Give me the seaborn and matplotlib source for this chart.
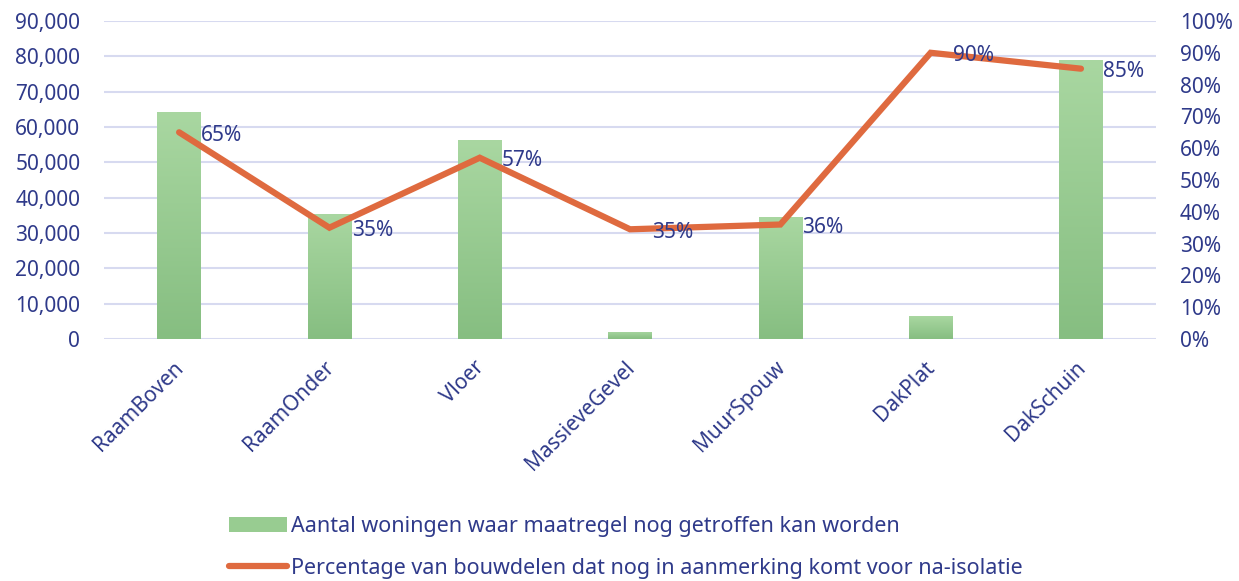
import numpy as np
import pandas as pd
import matplotlib
matplotlib.use("Agg")
import matplotlib.pyplot as plt
import matplotlib.transforms as mtransforms
import seaborn as sns
from matplotlib.ticker import FuncFormatter, PercentFormatter, MultipleLocator
from matplotlib.patches import Patch
from matplotlib.lines import Line2D
from matplotlib.colors import LinearSegmentedColormap

# data
categories = ["RaamBoven", "RaamOnder", "Vloer", "MassieveGevel", "MuurSpouw", "DakPlat", "DakSchuin"]
woningen = [64200, 35400, 56300, 2000, 34500, 6500, 79000]
percentage = [0.65, 0.35, 0.57, 0.345, 0.36, 0.90, 0.85]
pct_labels = ["65%", "35%", "57%", "35%", "36%", "90%", "85%"]
bar_label = "Aantal woningen waar maatregel nog getroffen kan worden"
line_label = "Percentage van bouwdelen dat nog in aanmerking komt voor na-isolatie"

TEXT = "#2F3A8A"
GRID = "#D7DAF0"
ORANGE = "#DF6A3F"
GREEN_TOP = "#A9D7A1"
GREEN_BOT = "#86BE81"

df = pd.DataFrame({"cat": categories, "n": woningen, "pct": percentage})

sns.set_style("white")
plt.rcParams["font.family"] = ["Noto Sans", "DejaVu Sans"]

fig = plt.figure(figsize=(12.39, 5.81), dpi=100)
ax = fig.add_axes([0.0839, 0.4165, 0.8492, 0.5474])

sns.barplot(data=df, x="cat", y="n", ax=ax, width=0.29, color=GREEN_TOP, saturation=1)

# vertical gradient on each bar
cmap = LinearSegmentedColormap.from_list("g", [GREEN_BOT, GREEN_TOP])
grad = np.linspace(0, 1, 256).reshape(-1, 1)
for p in ax.patches:
    x0, y0 = p.get_x(), p.get_y()
    w, h = p.get_width(), p.get_height()
    im = ax.imshow(grad, cmap=cmap, origin="lower", aspect="auto",
                   extent=[x0, x0 + w, y0, y0 + h], zorder=2)
    im.set_clip_path(p)
    p.set_facecolor("none")
    p.set_edgecolor("none")

ax.set_xlim(-0.5, len(categories) - 0.5)
ax.set_ylim(0, 90000)
ax.yaxis.set_major_locator(MultipleLocator(10000))
ax.yaxis.set_major_formatter(FuncFormatter(lambda v, _: f"{int(v):,}"))
ax.grid(axis="y", color=GRID, linewidth=1.5)
ax.set_axisbelow(True)
ax.set_xlabel("")
ax.set_ylabel("")
for s in ax.spines.values():
    s.set_visible(False)
ax.tick_params(axis="both", length=0, labelsize=15, labelcolor=TEXT)
ax.tick_params(axis="y", pad=17)
ax.tick_params(axis="x", pad=13)
shift = mtransforms.ScaledTranslation(-0.06, 0, fig.dpi_scale_trans)
for lbl in ax.get_xticklabels():
    lbl.set_rotation(45)
    lbl.set_ha("right")
    lbl.set_rotation_mode("anchor")
    lbl.set_transform(lbl.get_transform() + shift)

ax2 = ax.twinx()
sns.lineplot(data=df, x="cat", y="pct", ax=ax2, sort=False, color=ORANGE,
             linewidth=4.5, solid_capstyle="round", solid_joinstyle="miter")
ax2.set_ylim(0, 1)
ax2.yaxis.set_major_locator(MultipleLocator(0.1))
ax2.yaxis.set_major_formatter(PercentFormatter(1.0, decimals=0))
ax2.set_xlabel("")
ax2.set_ylabel("")
for s in ax2.spines.values():
    s.set_visible(False)
ax2.tick_params(axis="both", length=0, labelsize=15, labelcolor=TEXT)
ax2.tick_params(axis="y", pad=17)
for i, (v, t) in enumerate(zip(percentage, pct_labels)):
    ax2.annotate(t, (i, v), xytext=(16, -2), textcoords="offset points",
                 ha="left", va="center", fontsize=15, color=TEXT)

handles = [Patch(facecolor="#98CC91", edgecolor="none"),
           Line2D([], [], color=ORANGE, linewidth=4.5, solid_capstyle="round")]
fig.legend(handles, [bar_label, line_label], loc="upper left",
           bbox_to_anchor=(0.178, 0.126), frameon=False,
           labelcolor=TEXT, handlelength=2.7, handletextpad=0.15,
           labelspacing=0.95, borderaxespad=0,
           prop={"family": ["Noto Sans", "DejaVu Sans"], "size": 15.5})

fig.savefig("out.png", dpi=100)
